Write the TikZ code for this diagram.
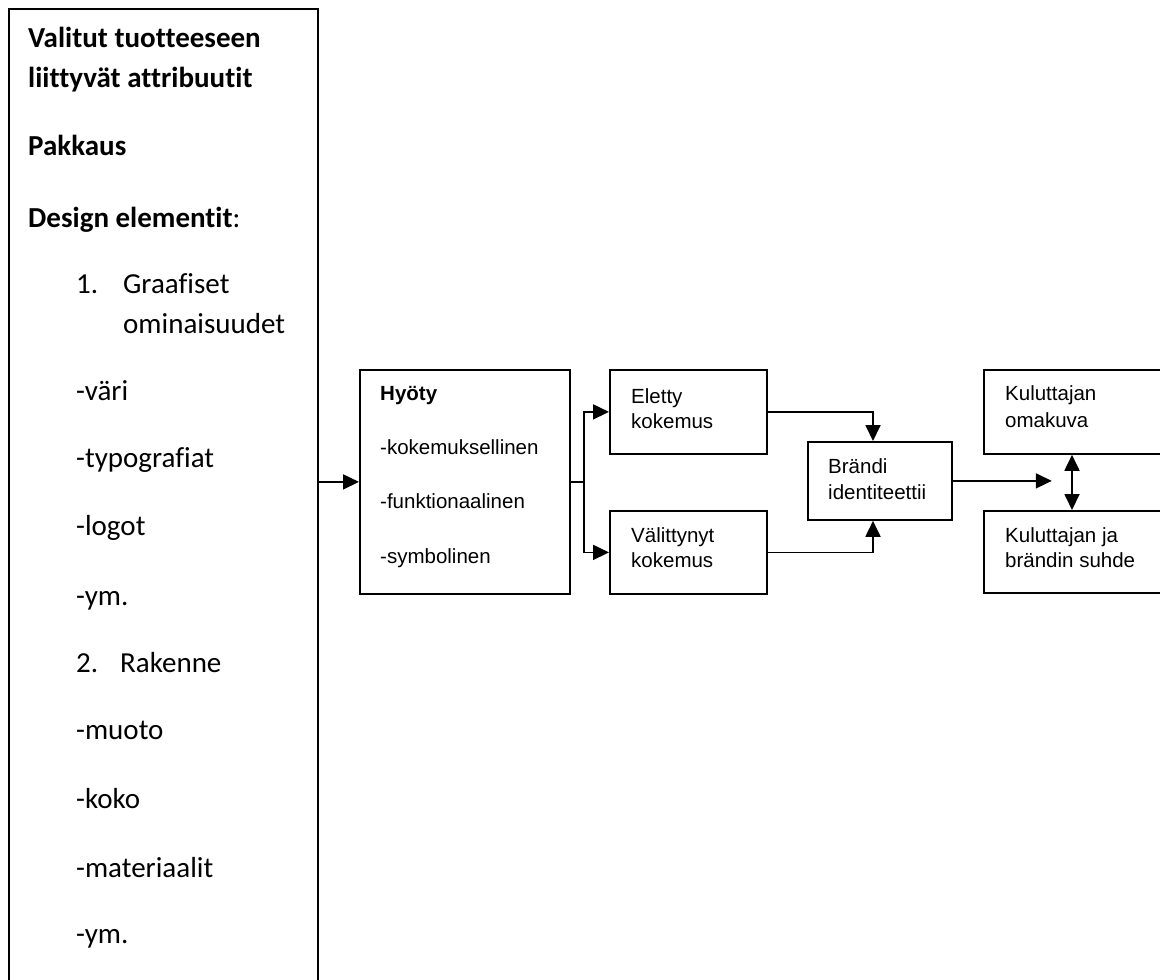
\documentclass[tikz,border=0pt]{standalone}
\usepackage{fontspec}
\setmainfont{Carlito}[Ligatures=NoCommon]
\newfontfamily\arialf{Liberation Sans}
\usetikzlibrary{arrows.meta}
\tikzset{
  box/.style={draw, line width=1.8pt, rectangle, anchor=north west, inner sep=0pt},
  lt/.style={anchor=base west, inner sep=0pt, font=\fontsize{29}{34}\selectfont},
  rt/.style={anchor=base west, inner sep=0pt, font=\arialf\fontsize{20.5}{24}\selectfont},
  conn/.style={line width=1.8pt, -{Triangle[length=16pt,width=15pt]}},
  dconn/.style={line width=1.8pt, {Triangle[length=16pt,width=15pt]}-{Triangle[length=16pt,width=15pt]}},
  plain/.style={line width=1.8pt}
}
\begin{document}
\begin{tikzpicture}[x=1pt,y=-1pt]
\useasboundingbox (0,0) rectangle (1160,980);
\clip (0,0) rectangle (1160,980);
% boxes
\node[box, line width=2pt, minimum width=309pt, minimum height=1000pt] (left) at (8,8) {};
\node[box, minimum width=210pt, minimum height=224pt] (hyoty) at (359,369) {};
\node[box, minimum width=157pt, minimum height=84pt] (eletty) at (609,369) {};
\node[box, minimum width=157pt, minimum height=83pt] (valit) at (609,510) {};
\node[box, minimum width=144pt, minimum height=78pt] (brandi) at (807,441) {};
\node[box, minimum width=220pt, minimum height=84pt] (omakuva) at (983,369) {};
\node[box, minimum width=220pt, minimum height=82pt] (suhde) at (983,510) {};
% left texts
\node[lt, font=\bfseries\fontsize{29}{34}\selectfont] (l1) at (28,47) {Valitut tuotteeseen};
\node[lt, font=\bfseries\fontsize{29}{34}\selectfont] (l2) at (28,87) {liittyvät attribuutit};
\node[lt, font=\bfseries\fontsize{29}{34}\selectfont] (l3) at (28,155) {Pakkaus};
\node[lt] (l4) at (28,227) {\textbf{Design elementit}:};
\node[lt] (l5n) at (76,293) {1.};
\node[lt] (l5) at (123,293) {Graafiset};
\node[lt] (l6) at (123,333) {ominaisuudet};
\node[lt] (l7) at (76,400) {-väri};
\node[lt] (l8) at (76,467) {-typografiat};
\node[lt] (l9) at (76,535) {-logot};
\node[lt] (l10) at (76,605) {-ym.};
\node[lt] (l11n) at (76,672) {2.};
\node[lt] (l11) at (120,672) {Rakenne};
\node[lt] (l12) at (76,739) {-muoto};
\node[lt] (l13) at (76,808) {-koko};
\node[lt] (l14) at (76,877) {-materiaalit};
\node[lt] (l15) at (76,943) {-ym.};
% right texts
\node[rt, font=\arialf\bfseries\fontsize{20.5}{24}\selectfont] (h1) at (380,400) {Hyöty};
\node[rt] (h2) at (380,454) {-kokemuksellinen};
\node[rt] (h3) at (380,508) {-funktionaalinen};
\node[rt] (h4) at (380,563) {-symbolinen};
\node[rt] (e1) at (631,403) {Eletty};
\node[rt] (e2) at (631,428) {kokemus};
\node[rt] (v1) at (631,542) {Välittynyt};
\node[rt] (v2) at (631,567) {kokemus};
\node[rt] (b1) at (828,473) {Brändi};
\node[rt] (b2) at (828,499) {identiteettii};
\node[rt] (k1) at (1005,400) {Kuluttajan};
\node[rt] (k2) at (1005,427) {omakuva};
\node[rt] (s1) at (1005,542) {Kuluttajan ja};
\node[rt] (s2) at (1005,567) {brändin suhde};
% connectors
\coordinate (split) at ([xshift=13pt]hyoty.east);
\coordinate (mergex) at (873,0);
\coordinate (tip) at ([xshift=99pt]brandi.east);
\coordinate (dax) at (1072,0);
\draw[conn] (hyoty.west -| left.east) -- (hyoty.west);
\draw[plain] (hyoty.east) -- (split);
\draw[conn] (split) |- (eletty.west);
\draw[conn] (split) |- (valit.west);
\draw[conn] (eletty.east) -| (mergex |- brandi.north);
\draw[conn] (valit.east) -| (mergex |- brandi.south);
\draw[conn] (brandi.east) -- (tip);
\draw[dconn] (dax |- omakuva.south) -- (dax |- suhde.north);
\end{tikzpicture}
\end{document}
